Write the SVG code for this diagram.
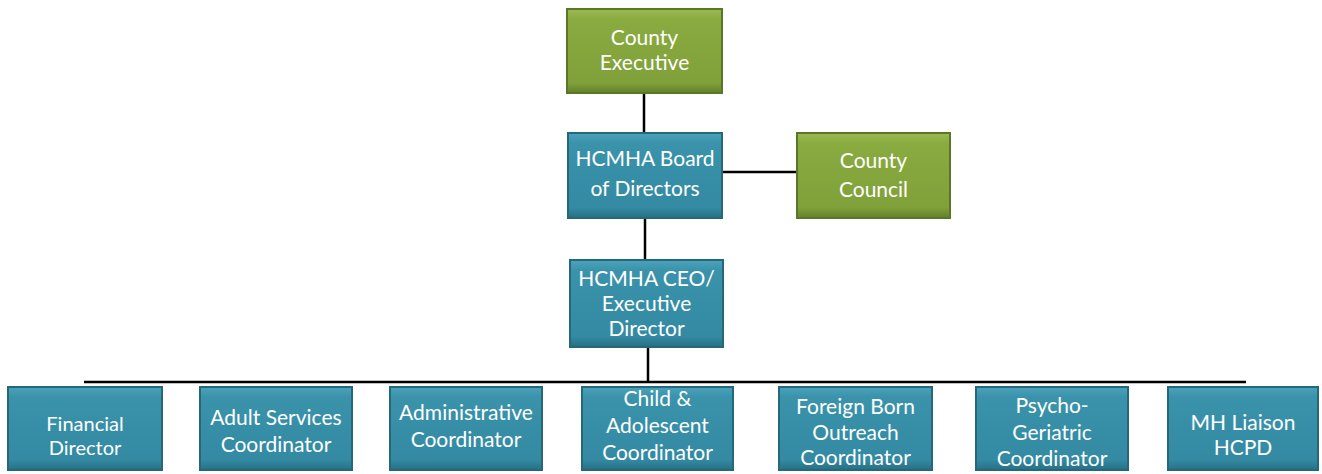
<svg xmlns="http://www.w3.org/2000/svg" width="1322" height="474" viewBox="0 0 1322 474">
<defs>
<linearGradient id="gTeal" x1="0" y1="0" x2="0" y2="1">
<stop offset="0" stop-color="#4aa3bb"/>
<stop offset="0.12" stop-color="#3a93ab"/>
<stop offset="0.88" stop-color="#338aa2"/>
<stop offset="1" stop-color="#276f83"/>
</linearGradient>
<linearGradient id="gGreen" x1="0" y1="0" x2="0" y2="1">
<stop offset="0" stop-color="#9bbb52"/>
<stop offset="0.12" stop-color="#8aab40"/>
<stop offset="0.88" stop-color="#80a03a"/>
<stop offset="1" stop-color="#62802a"/>
</linearGradient>
</defs>
<style>
.teal{fill:url(#gTeal);stroke:#24687a;stroke-width:2}
.green{fill:url(#gGreen);stroke:#5a7626;stroke-width:2}
.lbl{font-family:Lato,"Noto Sans","Liberation Sans",sans-serif;font-size:21px;fill:#ffffff;text-anchor:middle}
.sm{font-size:20px}
.conn{stroke:#000000;stroke-width:2.5;fill:none}
</style>
<rect width="1322" height="474" fill="#ffffff"/>
<g id="connectors">
<line class="conn" x1="644" y1="93" x2="644" y2="133"/>
<line class="conn" x1="722" y1="172" x2="797" y2="172"/>
<line class="conn" x1="645" y1="218" x2="645" y2="260"/>
<line class="conn" x1="648" y1="347" x2="648" y2="382"/>
<line class="conn" x1="84" y1="382" x2="1246" y2="382" stroke-width="3"/>
</g>
<g id="county-executive">
<rect class="green" x="567" y="9" width="155" height="84"/>
<text class="lbl" x="644.5" y="45">County</text>
<text class="lbl" x="644.5" y="70">Executive</text>
</g>
<g id="board">
<rect class="teal" x="568" y="133" width="154" height="85"/>
<text class="lbl" x="645" y="166">HCMHA Board</text>
<text class="lbl" x="645" y="196">of Directors</text>
</g>
<g id="county-council">
<rect class="green" x="797" y="133" width="153" height="85"/>
<text class="lbl" x="873.5" y="168">County</text>
<text class="lbl" x="873.5" y="197">Council</text>
</g>
<g id="ceo">
<rect class="teal" x="570" y="260" width="153" height="87"/>
<text class="lbl" x="646.5" y="286">HCMHA CEO/</text>
<text class="lbl" x="646.5" y="311">Executive</text>
<text class="lbl" x="646.5" y="336">Director</text>
</g>
<g id="financial-director">
<rect class="teal" x="8" y="387" width="154" height="83"/>
<text class="lbl sm" x="85" y="431">Financial</text>
<text class="lbl sm" x="85" y="455">Director</text>
</g>
<g id="adult-services">
<rect class="teal" x="200" y="387" width="152" height="83"/>
<text class="lbl" x="276" y="425">Adult Services</text>
<text class="lbl" x="276" y="452">Coordinator</text>
</g>
<g id="administrative">
<rect class="teal" x="390" y="387" width="152" height="83"/>
<text class="lbl" x="466" y="420">Administrative</text>
<text class="lbl" x="466" y="447">Coordinator</text>
</g>
<g id="child-adolescent">
<rect class="teal" x="582" y="387" width="151" height="83"/>
<text class="lbl" x="657.5" y="406">Child &amp;</text>
<text class="lbl" x="657.5" y="433">Adolescent</text>
<text class="lbl" x="657.5" y="460">Coordinator</text>
</g>
<g id="foreign-born">
<rect class="teal" x="779" y="387" width="153" height="83"/>
<text class="lbl" x="855.5" y="414">Foreign Born</text>
<text class="lbl" x="855.5" y="440">Outreach</text>
<text class="lbl" x="855.5" y="465">Coordinator</text>
</g>
<g id="psycho-geriatric">
<rect class="teal" x="976" y="387" width="152" height="83"/>
<text class="lbl" x="1052" y="413">Psycho-</text>
<text class="lbl" x="1052" y="440">Geriatric</text>
<text class="lbl" x="1052" y="466">Coordinator</text>
</g>
<g id="mh-liaison">
<rect class="teal" x="1168" y="387" width="150" height="83"/>
<text class="lbl" x="1243" y="430">MH Liaison</text>
<text class="lbl" x="1243" y="455">HCPD</text>
</g>
</svg>
